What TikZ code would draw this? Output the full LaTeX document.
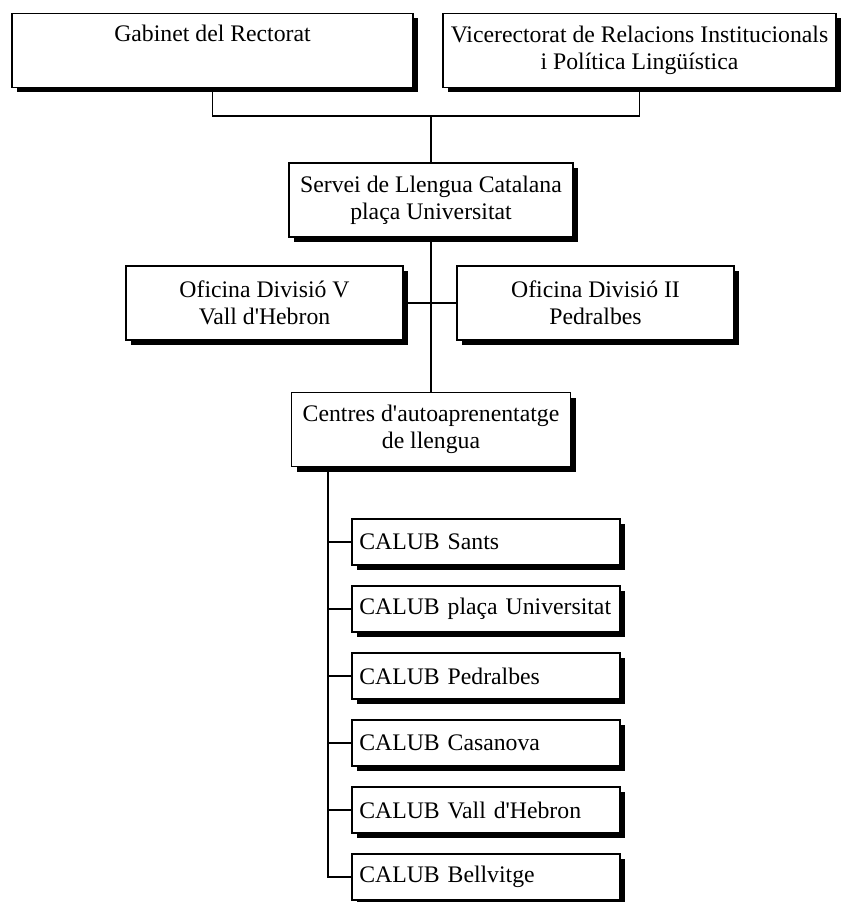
\documentclass[tikz,border=0pt]{standalone}
\usepackage{fontspec}
\setmainfont{Liberation Serif}[Ligatures=TeXOff]
\usetikzlibrary{shadows}
\begin{document}
\begin{tikzpicture}[x=0.75pt,y=-0.75pt,
  box/.style={draw,line width=0.8pt,fill=white,align=center,minimum height=55.5pt,
    font=\fontsize{17.8pt}{20.25pt}\selectfont,
    drop shadow={shadow xshift=3.75pt,shadow yshift=-3.75pt,fill=black,opacity=1}},
  calub/.style={box,align=left,text width=190pt,inner xsep=5.5pt,minimum height=34.5pt},
  conn/.style={line width=1.3pt}]
\useasboundingbox (0,0) rectangle (841,902);
% top level
\node (gab) at (212.5,50.5) [box,minimum width=300.75pt] {Gabinet del Rectorat\\\strut};
\node (vic) at (639.5,50.5) [box,minimum width=294.75pt] {Vicerectorat de Relacions Institucionals\\i Política Lingüística};
\coordinate (bus) at (431,116);
\draw[conn] (gab.south) |- (bus) -| (vic.south);
% service and offices
\node (servei) at (431,200) [box,minimum width=213pt] {Servei de Llengua Catalana\\plaça Universitat};
\draw[conn] (bus) -- (servei.north);
\node (ofV) at (264.5,303) [box,minimum width=207.75pt] {Oficina Divisió V\\Vall d'Hebron};
\node (ofII) at (595.5,303) [box,minimum width=207.75pt] {Oficina Divisió II\\Pedralbes};
\node (centres) at (431,429.5) [box,minimum width=209.25pt] {Centres d'autoaprenentatge\\de llengua};
\draw[conn] (servei.south) -- (centres.north);
\draw[conn] (ofV.east) -- (ofII.west);
% CALUB centres
\node (sants) at (486,542) [calub] {CALUB Sants};
\node (placa) at (486,609) [calub] {CALUB plaça Universitat};
\node (pedralbes) at (486,676) [calub] {CALUB Pedralbes};
\node (casanova) at (486,743) [calub] {CALUB Casanova};
\node (hebron) at (486,810) [calub] {CALUB Vall d'Hebron};
\node (bellvitge) at (486,877) [calub] {CALUB Bellvitge};
\coordinate (trunk) at (328,877);
\draw[conn] (centres.south -| trunk) |- (bellvitge.west);
\foreach \n in {sants,placa,pedralbes,casanova,hebron}
  \draw[conn] (\n.west) -- (\n.west -| trunk);
\end{tikzpicture}
\end{document}
